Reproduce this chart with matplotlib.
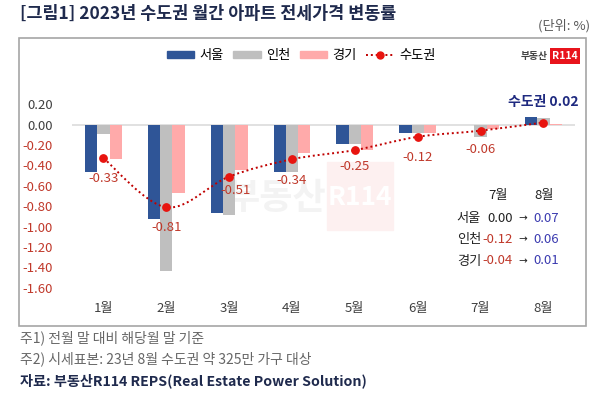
import matplotlib
matplotlib.use("Agg")
import matplotlib.pyplot as plt
import numpy as np
from matplotlib.path import Path
from matplotlib.patches import PathPatch, Rectangle
from matplotlib.lines import Line2D

plt.rcParams["font.family"] = ["Noto Sans CJK KR", "DejaVu Sans"]

months = ["1월", "2월", "3월", "4월", "5월", "6월", "7월", "8월"]
seoul = [-0.46, -0.93, -0.87, -0.46, -0.19, -0.08, 0.00, 0.07]
incheon = [-0.09, -1.43, -0.89, -0.46, -0.19, -0.08, -0.12, 0.06]
gyeonggi = [-0.34, -0.67, -0.45, -0.28, -0.25, -0.08, -0.04, 0.01]
metro = [-0.33, -0.81, -0.51, -0.34, -0.25, -0.12, -0.06, 0.02]
yticks = [0.2, 0.0, -0.2, -0.4, -0.6, -0.8, -1.0, -1.2, -1.4, -1.6]

c_seoul = "#2f5597"
c_incheon = "#bfbfbf"
c_gyeonggi = "#ffaaaa"
c_line = "#c00000"
c_dot = "#e8140f"
c_neg = "#c0392b"
c_navy = "#1f2a80"

fig = plt.figure(figsize=(6, 3.98), dpi=100)
ax = fig.add_axes([0.12, 0.251, 0.838, 0.513])
ax.patch.set_alpha(0)

# watermark behind everything
def ax_xy(px, py):
    return (px - 72) / 503, (298 - py) / 204

ax.text(*ax_xy(276, 198), "부동산", transform=ax.transAxes, fontsize=26,
        fontweight="bold", color="#f3f3f3", ha="center", va="center", zorder=0)
rx, ry = ax_xy(327, 230)
ax.add_patch(Rectangle((rx, ry), 66 / 503, 68 / 204, transform=ax.transAxes,
                       color="#fdf0f0", zorder=0))
ax.text(*ax_xy(360, 197), "R114", transform=ax.transAxes, fontsize=19,
        fontweight="bold", color="white", ha="center", va="center", zorder=0.5)

x = np.arange(len(months))
w = 0.195
ax.bar(x - w, seoul, w, color=c_seoul, zorder=2)
ax.bar(x, incheon, w, color=c_incheon, zorder=2)
ax.bar(x + w, gyeonggi, w, color=c_gyeonggi, zorder=2)
ax.axhline(0, color="#dcdcdc", lw=1.2, zorder=1)

# smoothed line (like excel)
pts = np.column_stack([x, metro]).astype(float)
verts = [pts[0]]
codes = [Path.MOVETO]
n = len(pts)
for i in range(n - 1):
    p0 = pts[max(i - 1, 0)]
    p1 = pts[i]
    p2 = pts[i + 1]
    p3 = pts[min(i + 2, n - 1)]
    verts += [p1 + (p2 - p0) / 6, p2 - (p3 - p1) / 6, p2]
    codes += [Path.CURVE4] * 3
ax.add_patch(PathPatch(Path(verts, codes), fill=False, ec=c_line, lw=1.4,
                       ls=(0, (1, 1.5)), zorder=3))
ax.scatter(x, metro, s=28, color=c_dot, zorder=4)

offs = [(0, -0.2), (0, -0.2), (0.1, -0.14), (0, -0.21), (0, -0.16), (0, -0.2), (0, -0.18)]
for i, v in enumerate(metro[:-1]):
    dx, dy = offs[i]
    ax.text(i + dx, v + dy, f"{v:.2f}", color=c_neg, fontsize=9.5,
            ha="center", va="center", zorder=5)
ax.text(7, 0.22, f"수도권 {metro[-1]:.2f}", color=c_navy, fontsize=10,
        fontweight="bold", ha="center", va="center")

ax.set_xlim(-0.5, 7.5)
ax.set_ylim(-1.7, 0.3)
ax.set_yticks(yticks)
ax.set_yticklabels([f"{t:.2f}" for t in yticks], fontsize=9.5)
for lbl, t in zip(ax.get_yticklabels(), yticks):
    lbl.set_color(c_neg if t < 0 else "#404040")
ax.set_xticks(x)
ax.set_xticklabels(months, fontsize=9.5, color="#404040")
ax.tick_params(axis="y", length=0, pad=14)
ax.tick_params(axis="x", length=0, pad=3)
for s in ax.spines.values():
    s.set_visible(False)

# table with 7월 -> 8월
fig.text(498 / 600, 1 - 196 / 398, "7월", fontsize=9.5, ha="center", va="center", color="#222222")
fig.text(544 / 600, 1 - 196 / 398, "8월", fontsize=9.5, ha="center", va="center", color="#222222")
rows = [("서울", seoul), ("인천", incheon), ("경기", gyeonggi)]
for k, (name, vals) in enumerate(rows):
    yy = 1 - (218 + 21.5 * k) / 398
    fig.text(481 / 600, yy, name, fontsize=9.5, ha="right", va="center", color="#222222")
    v7, v8 = vals[6], vals[7]
    fig.text(513 / 600, yy, f"{v7:.2f}", fontsize=9.5, ha="right", va="center",
             color=c_neg if v7 < 0 else "#222222")
    fig.text(523 / 600, yy, "→", fontsize=7.5, ha="center", va="center", color="#222222",
             family=["DejaVu Sans"])
    fig.text(533 / 600, yy, f"{v8:.2f}", fontsize=9.5, ha="left", va="center", color="#3b3bb0")

# frame
fig.patches.append(Rectangle((19 / 600, 1 - 326 / 398), 567 / 600, 288 / 398,
                             transform=fig.transFigure, fill=False,
                             ec="#a6a6a6", lw=1.2))

# legend
handles = [Rectangle((0, 0), 1, 1, color=c_seoul),
           Rectangle((0, 0), 1, 1, color=c_incheon),
           Rectangle((0, 0), 1, 1, color=c_gyeonggi),
           Line2D([], [], color=c_line, ls=(0, (1, 1.5)), lw=1.4,
                  marker="o", markersize=5, markerfacecolor=c_dot,
                  markeredgecolor=c_dot)]
fig.legend(handles, ["서울", "인천", "경기", "수도권"], ncol=4, frameon=False,
           loc="center", bbox_to_anchor=(301 / 600, 1 - 56 / 398), fontsize=9.5,
           handlelength=2.1, handleheight=0.4, columnspacing=0.7, handletextpad=0.4)

# logo
fig.text(548 / 600, 1 - 56 / 398, "부동산", fontsize=7, fontweight="bold",
         color="#444444", ha="right", va="center")
fig.text(565 / 600, 1 - 56 / 398, "R114", fontsize=7.5, fontweight="bold",
         color="white", ha="center", va="center",
         bbox=dict(boxstyle="square,pad=0.25", fc="#e8141c", ec="none"))

# titles and notes
fig.text(20 / 600, 1 - 14 / 398, "[그림1] 2023년 수도권 월간 아파트 전세가격 변동률",
         fontsize=12.5, fontweight="bold", color="#1f2a4d", ha="left", va="center")
fig.text(590 / 600, 1 - 26 / 398, "(단위: %)", fontsize=9.5, color="#595959",
         ha="right", va="center")
fig.text(20 / 600, 1 - 338 / 398, "주1) 전월 말 대비 해당월 말 기준", fontsize=10,
         color="#666666", ha="left", va="center")
fig.text(20 / 600, 1 - 359 / 398, "주2) 시세표본: 23년 8월 수도권 약 325만 가구 대상", fontsize=10,
         color="#666666", ha="left", va="center")
fig.text(20 / 600, 1 - 381 / 398, "자료: 부동산R114 REPS(Real Estate Power Solution)", fontsize=10.2,
         fontweight="bold", color="#1f2a4d", ha="left", va="center")

fig.savefig("out.png", dpi=100)
